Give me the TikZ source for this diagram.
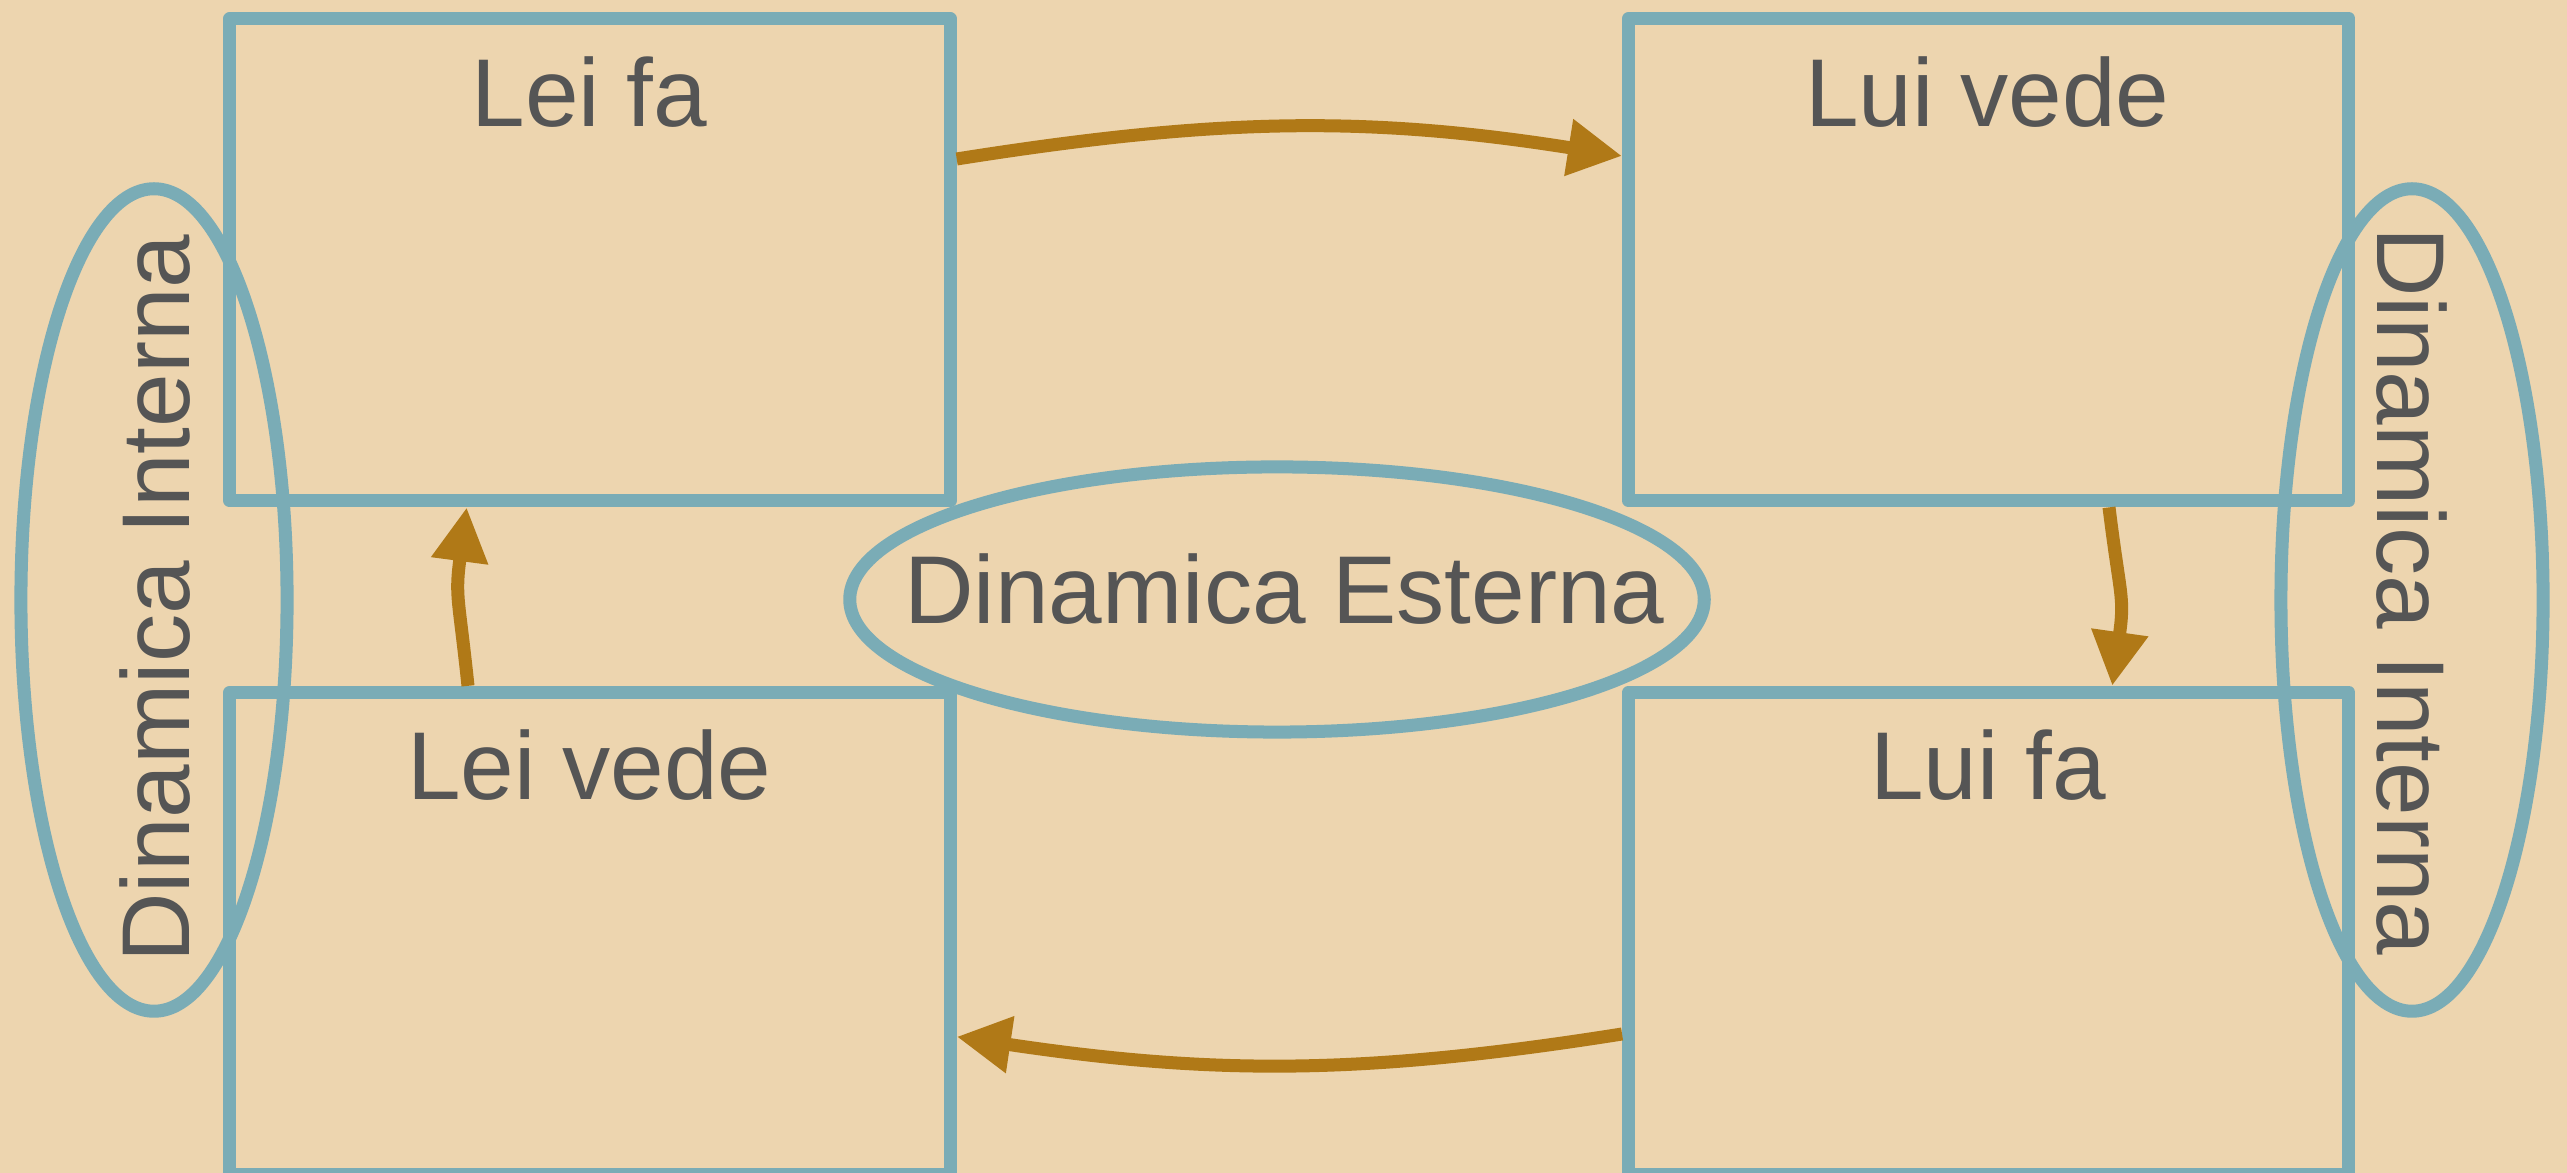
\documentclass[tikz,border=0pt]{standalone}
\usepackage{fontspec}
\setmainfont{Liberation Sans}
\usetikzlibrary{arrows.meta,shapes.geometric,calc}
\definecolor{bgc}{RGB}{237,213,175}
\definecolor{tealc}{RGB}{122,172,182}
\definecolor{arrc}{RGB}{176,121,23}
\definecolor{txtc}{RGB}{85,85,85}
\begin{document}
\begin{tikzpicture}[x=0.01cm,y=0.01cm,
  box/.style={draw=tealc, line width=0.13cm, line join=round, minimum width=7.2cm, minimum height=4.82cm, inner sep=0pt},
  oval/.style={ellipse, draw=tealc, line width=0.13cm, inner sep=0pt},
  conn/.style={draw=arrc, line width=0.13cm, -{Triangle[length=0.54cm,width=0.54cm]}},
  lbl/.style={text=txtc, font=\fontsize{27.4pt}{33pt}\selectfont, inner sep=0pt}]
\fill[bgc] (0,0) rectangle (2567,1173);
\useasboundingbox (0,0) rectangle (2567,1173);
% boxes
\node[box] (tl) at (590,913.25) {};
\node[box] (tr) at (1988.75,913.25) {};
\node[box] (bl) at (590,239.5) {};
\node[box] (br) at (1988.75,239.5) {};
% ellipses
\node[oval, minimum width=2.66cm, minimum height=8.22cm] (li) at (154,573) {};
\node[oval, minimum width=2.62cm, minimum height=8.22cm] (ri) at (2412,573) {};
\node[oval, minimum width=8.54cm, minimum height=2.65cm] (ext) at (1277,573.5) {};
% arrows
\draw[conn] ($(tl.east)+(0,100.75)$) to[out=9, in=171] ($(tr.west)+(0,103.75)$);
\draw[conn] ($(tr.south)+(120.25,0)$) to[out=-83, in=82, looseness=1.3] ($(br.north)+(123.5,0)$);
\draw[conn] ($(br.west)+(0,-100.5)$) to[out=189, in=-8.5] ($(bl.east)+(0,-103.2)$);
\draw[conn] ($(bl.north)+(-122,0)$) to[out=96, in=-97.5, looseness=1.3] ($(tl.south)+(-123.3,0)$);
% texts
\node[lbl, anchor=base] (t1) at (589.5,1046.7) {Lei fa};
\node[lbl, anchor=base] (t2) at (1987.5,1046.7) {Lui vede};
\node[lbl, anchor=base] (t3) at (589.5,373.6) {Lei vede};
\node[lbl, anchor=base] (t4) at (1988,373.6) {Lui fa};
\node[lbl, anchor=base] (t5) at (1284.5,549.7) {Dinamica Esterna};
\node[lbl, anchor=base, rotate=90] (t6) at (189,574.5) {Dinamica Interna};
\node[lbl, anchor=base, rotate=-90] (t7) at (2377,581.5) {Dinamica Interna};
\end{tikzpicture}
\end{document}
